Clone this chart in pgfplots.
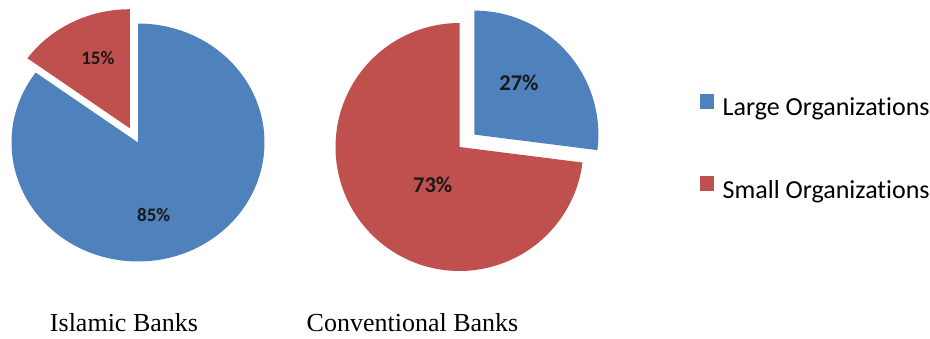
\documentclass[border=0pt]{standalone}
\usepackage{pgfplots}
\pgfplotsset{compat=1.18}
\usepackage{fontspec}
\setmainfont{Liberation Serif}
\newfontfamily\calibri[Ligatures=NoCommon]{Carlito}
\definecolor{pieblue}{HTML}{4F81BD}
\definecolor{piered}{HTML}{C0504D}
% percentages
\def\IslamicLarge{85}
\def\IslamicSmall{15}
\def\ConvLarge{27}
\def\ConvSmall{73}
\begin{document}
\begin{tikzpicture}[x=1pt,y=1pt]
% ---------- Islamic Banks ----------
\begin{axis}[at={(138pt,195.5pt)}, anchor=center, scale only axis,
  width=303.6pt, height=285.6pt, xmin=-1.2, xmax=1.2, ymin=-1.2, ymax=1.2,
  hide axis, clip=false]
\addplot[forget plot, fill=pieblue, draw=none, domain={90+\IslamicSmall*3.6}:450, samples=150, variable=\t]
  ({cos(\t)},{sin(\t)}) -- (axis cs:0,0) -- cycle;
\addplot[forget plot, fill=piered, draw=none, domain=90:{90+\IslamicSmall*3.6}, samples=40, variable=\t]
  ({-0.065+cos(\t)},{0.12+sin(\t)}) -- (axis cs:-0.065,0.12) -- cycle;
\node[font=\calibri\bfseries\fontsize{19}{19}\selectfont, text=black!90] at (axis cs:-0.317,0.712) {\IslamicSmall\%};
\node[font=\calibri\bfseries\fontsize{19}{19}\selectfont, text=black!90] at (axis cs:0.124,-0.609) {\IslamicLarge\%};
\end{axis}
% ---------- Conventional Banks ----------
\begin{axis}[at={(459.5pt,191pt)}, anchor=center, scale only axis,
  width=297.6pt, height=297.6pt, xmin=-1.2, xmax=1.2, ymin=-1.2, ymax=1.2,
  hide axis, clip=false,
  legend style={at={(1.3065,0.4966)}, anchor=west, draw=none, fill=none,
    inner sep=0pt, row sep=57pt, column sep=7pt,
    font=\calibri\fontsize{26}{26}\selectfont},
  legend cell align=left,
  legend image code/.code={\fill[#1, draw=none] (0pt,-1pt) rectangle (14pt,14pt);}]
\addplot[forget plot, fill=pieblue, draw=none, domain={90-\ConvLarge*3.6}:90, samples=60, variable=\t]
  ({0.12+cos(\t)},{0.1+sin(\t)}) -- (axis cs:0.12,0.1) -- cycle;
\addplot[forget plot, fill=piered, draw=none, domain=90:{450-\ConvLarge*3.6}, samples=150, variable=\t]
  ({cos(\t)},{sin(\t)}) -- (axis cs:0,0) -- cycle;
\node[font=\calibri\bfseries\fontsize{22.5}{22.5}\selectfont, text=black!90] at (axis cs:0.48,0.516) {\ConvLarge\%};
\node[font=\calibri\bfseries\fontsize{22.5}{22.5}\selectfont, text=black!90] at (axis cs:-0.216,-0.309) {\ConvSmall\%};
\addlegendimage{fill=pieblue, draw=none}
\addlegendentry{Large Organizations}
\addlegendimage{fill=piered, draw=none}
\addlegendentry{Small Organizations}
\end{axis}
% ---------- captions ----------
\node[anchor=base, font=\fontsize{26}{26}\selectfont] at (124,6.3) {Islamic Banks};
\node[anchor=base, font=\fontsize{26}{26}\selectfont] at (412.5,6.3) {Conventional Banks};
\pgfresetboundingbox
\useasboundingbox (0,0) rectangle (930,338);
\end{tikzpicture}
\end{document}
